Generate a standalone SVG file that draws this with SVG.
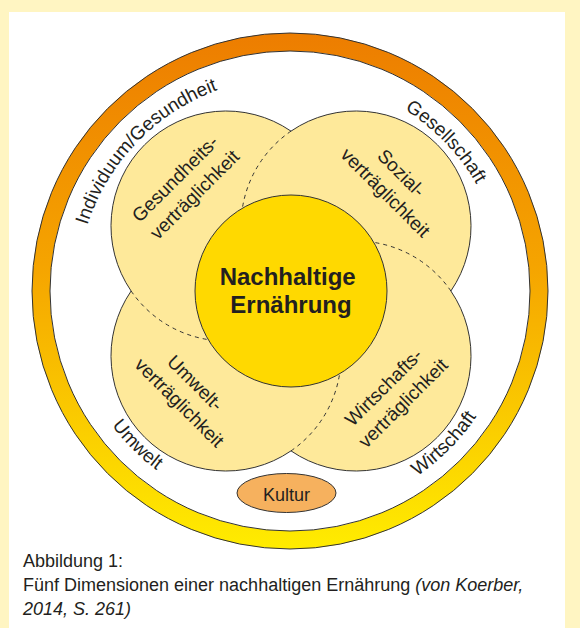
<svg xmlns="http://www.w3.org/2000/svg" width="580" height="628" viewBox="0 0 580 628">
  <defs>
    <linearGradient id="ringGrad" gradientUnits="userSpaceOnUse" x1="0" y1="33" x2="0" y2="549">
      <stop offset="0" stop-color="#ED7D00"/>
      <stop offset="0.45" stop-color="#F5A400"/>
      <stop offset="1" stop-color="#FFEC00"/>
    </linearGradient>
    <path id="arcTop" d="M77,291 A214,214 0 0 1 505,291"/>
    <path id="arcBottom" d="M67,291 A224,224 0 0 0 515,291"/>
    <style>
      .txt { font-family: "Liberation Sans", Arial, sans-serif; fill: #231F20; }
      .lbl { font-size: 19px; }
      .petal { fill: #FEE99A; }
      .outline { fill: none; stroke: #333333; stroke-width: 1; }
      .dash { fill: none; stroke: #333333; stroke-width: 1; stroke-dasharray: 4 4; }
      .cap { font-size: 18px; }
    </style>
  </defs>

  <rect x="0" y="0" width="580" height="628" fill="#FFF5C2"/>
  <rect x="9" y="12" width="556" height="616" fill="#FFFFFF"/>

  <g id="ring">
    <circle cx="290" cy="291" r="249" fill="none" stroke="url(#ringGrad)" stroke-width="18"/>
    <circle cx="290" cy="291" r="258" class="outline"/>
    <circle cx="290" cy="291" r="240" class="outline"/>
  </g>

  <g id="petals">
    <path class="petal" stroke="#333333" stroke-width="1" d="M291,131.13 A115,115 0 0 1 450.87,291 A115,115 0 0 1 291,450.87 A115,115 0 0 1 131.13,291 A115,115 0 0 1 291,131.13 Z"/>
  </g>

  <g id="connectors">
    <path class="dash" d="M291,131.13 A115,115 0 0 0 242.38,208.22"/>
    <path class="dash" d="M450.87,291 A115,115 0 0 0 373.78,242.38"/>
    <path class="dash" d="M291,450.87 A115,115 0 0 0 339.62,373.78"/>
    <path class="dash" d="M131.13,291 A115,115 0 0 0 208.22,339.62"/>
  </g>

  <g id="gesundheit">
    <text class="txt lbl" text-anchor="middle" transform="translate(185,185) rotate(-45)">
      <tspan x="0" y="-5">Gesundheits-</tspan>
      <tspan x="0" y="20">verträglichkeit</tspan>
    </text>
  </g>
  <g id="sozial">
    <text class="txt lbl" text-anchor="middle" transform="translate(395,183) rotate(45)">
      <tspan x="0" y="-5">Sozial-</tspan>
      <tspan x="0" y="20">verträglichkeit</tspan>
    </text>
  </g>
  <g id="umwelt">
    <text class="txt lbl" text-anchor="middle" transform="translate(189,393) rotate(45)">
      <tspan x="0" y="-5">Umwelt-</tspan>
      <tspan x="0" y="20">verträglichkeit</tspan>
    </text>
  </g>
  <g id="wirtschaft">
    <text class="txt lbl" text-anchor="middle" transform="translate(393.5,393.5) rotate(-45)">
      <tspan x="0" y="-5">Wirtschafts-</tspan>
      <tspan x="0" y="20">verträglichkeit</tspan>
    </text>
  </g>

  <g id="center">
    <circle cx="291" cy="291" r="96" fill="#FFD900" stroke="#333333" stroke-width="1"/>
    <text class="txt" text-anchor="middle" font-size="24" font-weight="bold">
      <tspan x="291" y="285">Nachhaltige</tspan>
      <tspan x="291" y="313">Ernährung</tspan>
    </text>
  </g>

  <g id="kultur">
    <ellipse cx="286.5" cy="493" rx="49.5" ry="19.5" fill="#F6B15E" stroke="#333333" stroke-width="1"/>
    <text class="txt" x="286.5" y="501" text-anchor="middle" font-size="18">Kultur</text>
  </g>

  <g id="outer-labels">
    <text class="txt lbl"><textPath href="#arcTop" startOffset="164" text-anchor="middle">Individuum/Gesundheit</textPath></text>
    <text class="txt lbl"><textPath href="#arcTop" startOffset="508" text-anchor="middle">Gesellschaft</textPath></text>
    <text class="txt lbl"><textPath href="#arcBottom" startOffset="176" text-anchor="middle">Umwelt</textPath></text>
    <text class="txt lbl"><textPath href="#arcBottom" startOffset="528" text-anchor="middle">Wirtschaft</textPath></text>
  </g>

  <g id="caption">
    <text class="txt cap" x="23" y="567">Abbildung 1:</text>
    <text class="txt cap" x="23" y="591">Fünf Dimensionen einer nachhaltigen Ernährung <tspan font-style="italic">(von Koerber,</tspan></text>
    <text class="txt cap" x="23" y="615" font-style="italic">2014, S. 261)</text>
  </g>
</svg>
